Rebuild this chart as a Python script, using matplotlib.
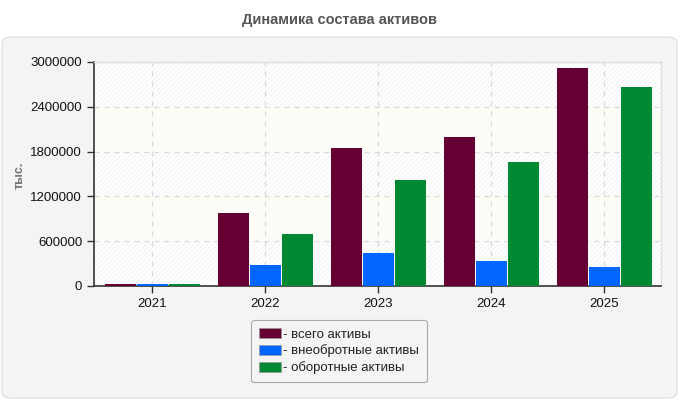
import matplotlib
matplotlib.use("Agg")
import matplotlib.pyplot as plt
import numpy as np
from matplotlib.patches import FancyBboxPatch, Patch

years = ["2021", "2022", "2023", "2024", "2025"]
series_names = ["- всего активы", "- внеобротные активы", "- оборотные активы"]
total_assets = [27000, 975000, 1848000, 1995000, 2920000]
noncurrent_assets = [26000, 280000, 442000, 335000, 254000]
current_assets = [25000, 695000, 1420000, 1660000, 2665000]
yticks = [0, 600000, 1200000, 1800000, 2400000, 3000000]
colors = ["#660033", "#0066ff", "#008833"]

plt.rcParams['font.family'] = ['Liberation Sans', 'DejaVu Sans']
plt.rcParams['hatch.linewidth'] = 0.5
plt.rcParams['hatch.color'] = '#ececec'

fig = plt.figure(figsize=(6.8, 4.0), dpi=100)
fig.patch.set_facecolor('white')

# panel
panel = FancyBboxPatch((2/680, 2/400), 675/680, 361/400,
                       boxstyle="round,pad=0,rounding_size=0.015",
                       transform=fig.transFigure, facecolor='#f4f4f4',
                       edgecolor='#e2e2e2', linewidth=1.0, zorder=-10)
fig.patches.append(panel)

fig.text(340/680, 1 - 20/400, "Динамика состава активов", ha='center', va='center',
         fontsize=10.5, fontweight='bold', color='#555555')

ax = fig.add_axes([94/680, 1 - 286/400, (661-94)/680, (286-62)/400])
ax.set_zorder(1)
ax.set_facecolor('white')

# alternating bands
for i in range(len(yticks) - 1):
    lo, hi = yticks[i], yticks[i+1]
    if i % 2 == 0:
        ax.axhspan(lo, hi, facecolor='white', edgecolor='#ececec', hatch='///////',
                   linewidth=0, zorder=0)
    else:
        ax.axhspan(lo, hi, facecolor='#fdfdf8', edgecolor='none', linewidth=0, zorder=0)

x = np.arange(len(years))
step = 0.283
w = 0.272
for k, vals in enumerate([total_assets, noncurrent_assets, current_assets]):
    ax.bar(x + (k - 1) * step, vals, width=w, color=colors[k], edgecolor='none',
           linewidth=0, zorder=3, label=series_names[k])

ax.set_xlim(-0.515, 4.5)
ax.set_ylim(0, 3000000)
ax.set_xticks(x)
ax.set_xticklabels(years)
ax.set_yticks(yticks)
ax.set_yticklabels([str(v) for v in yticks])
ax.tick_params(axis='both', labelsize=9.5, colors='#333333', length=5, width=1,
               labelcolor='#111111')
ax.grid(True, color='#d9d9d9', linestyle=(0, (4, 4)), linewidth=0.9, zorder=1)
ax.set_axisbelow(True)

for s in ['left', 'bottom']:
    ax.spines[s].set_color('#333333')
    ax.spines[s].set_linewidth(1.2)
for s in ['top', 'right']:
    ax.spines[s].set_color('#dddddd')
    ax.spines[s].set_linewidth(1.0)

fig.text(20/680, 1 - 175/400, "тыс.", rotation=90, ha='center', va='center',
         fontsize=9, fontweight='bold', color='#777777')

handles = [Patch(facecolor=c, edgecolor='#999999', linewidth=0.5) for c in colors]
leg = fig.legend(handles, series_names, loc='upper center',
                 bbox_to_anchor=(339/680, 1 - 320/400), frameon=True, fancybox=True,
                 fontsize=9.5, handlelength=1.7, handleheight=0.8, handletextpad=0.15,
                 labelspacing=0.3, borderpad=0.6, borderaxespad=0, facecolor='#f4f4f4',
                 edgecolor='#aaaaaa', framealpha=1)
leg.get_frame().set_linewidth(0.8)
for t in leg.get_texts():
    t.set_color('#222222')

fig.savefig("out.png", dpi=100, facecolor=fig.get_facecolor())
